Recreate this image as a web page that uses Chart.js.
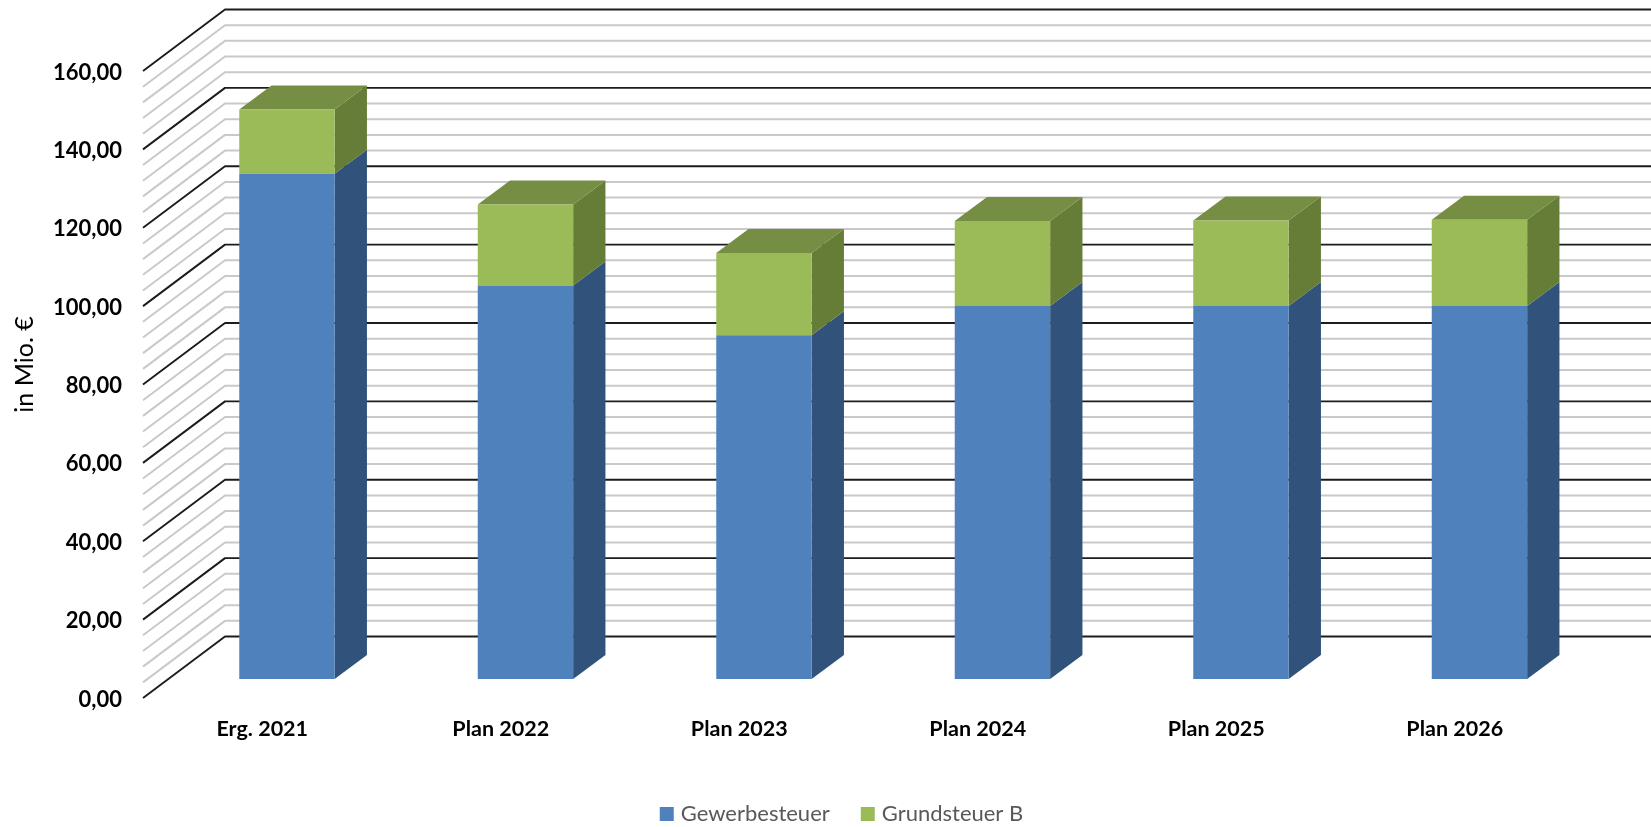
<!DOCTYPE html>
<html><head><meta charset="utf-8">
<style>html,body{margin:0;padding:0;background:#fff}canvas{display:block;filter:blur(0.35px)}</style>
<script src="https://cdn.jsdelivr.net/npm/chart.js@4"></script>
</head><body><canvas id="c" width="1651" height="827"></canvas>
<script>
const categories = ['Erg. 2021','Plan 2022','Plan 2023','Plan 2024','Plan 2025','Plan 2026'];
const gewerbesteuer = [128.9,100.4,87.7,95.2,95.2,95.2];
const grundsteuerB = [16.4,20.7,21.0,21.7,21.8,22.0];
const seriesNames = ['Gewerbesteuer','Grundsteuer B'];
const frontColors = ['#4F81BD','#9BBB59'];
const sideColors = ['#31527A','#667D38'];
const topColors = ['#3A6090','#768D44'];

const WALL = {dx:82, dy:-61.5};      // floor depth of the wall
const BAR_OFFSET = {dx:24.7, dy:-19}; // bar front plane
const BAR_DEPTH = {dx:32.3, dy:-24};

function poly(ctx, pts, color){
  ctx.fillStyle = color; ctx.beginPath();
  pts.forEach((p,i)=> i?ctx.lineTo(p[0],p[1]):ctx.moveTo(p[0],p[1]));
  ctx.closePath(); ctx.fill();
}
const plot3d = {
  id:'plot3d',
  afterLayout(chart){
    const lg = chart.legend;
    lg.left = 36; lg.right = 1651; lg.top = 768; lg.bottom = 827;
    const s = chart.scales.y;
    if(!s._shifted){
      s._shifted = true;
      const orig = s.drawTitle, origLabels = s.drawLabels;
      s.drawTitle = function(){ const c=this.ctx; c.save(); c.translate(0,-20); orig.call(this); c.restore(); };
      s.drawLabels = function(area){ const c=this.ctx; c.save(); c.translate(0,1.5); origLabels.call(this,area); c.restore(); };
    }
  },
  beforeDatasetsDraw(chart){
    const ctx = chart.ctx, y = chart.scales.y, W = chart.width;
    ctx.save();
    ctx.lineCap = 'butt'; ctx.lineJoin='round';
    const ticks = y.ticks.slice().sort((a,b)=> (a.value%20===0) - (b.value%20===0));
    ticks.forEach(t=>{
      const major = t.value % 20 === 0;
      const py = y.getPixelForValue(t.value);
      const x0 = chart.chartArea.left;
      ctx.strokeStyle = major ? '#1c1c1c' : '#c9c9c9';
      ctx.lineWidth = major ? 1.9 : 2;
      ctx.beginPath();
      ctx.moveTo(x0, py);
      ctx.lineTo(x0+WALL.dx, py+WALL.dy);
      ctx.lineTo(W, py+WALL.dy);
      ctx.stroke();
    });
    // bar faces, then the library bars on the same translated plane
    ctx.restore();
    ctx.save();
    ctx.translate(BAR_OFFSET.dx, BAR_OFFSET.dy);
    const n = chart.data.datasets.length;
    for(let d=0;d<n;d++){
      chart.getDatasetMeta(d).data.forEach(b=>{
        const r = b.x + b.width/2, l = b.x - b.width/2, dx=BAR_DEPTH.dx, dy=BAR_DEPTH.dy;
        poly(ctx, [[r,b.base],[r+dx,b.base+dy],[r+dx,b.y+dy],[r,b.y]], sideColors[d]);
        if(d===n-1) poly(ctx, [[l,b.y],[l+dx,b.y+dy],[r+dx,b.y+dy],[r,b.y]], topColors[d]);
      });
    }
  },
  afterDatasetsDraw(chart){ chart.ctx.restore(); }
};

new Chart(document.getElementById('c'), {
  type:'bar',
  data:{labels:categories, datasets:[
    {label:seriesNames[0], data:gewerbesteuer, backgroundColor:frontColors[0], borderWidth:0, clip:false},
    {label:seriesNames[1], data:grundsteuerB, backgroundColor:frontColors[1], borderWidth:0, clip:false}
  ]},
  options:{
    responsive:false, animation:false, devicePixelRatio:1,
    layout:{padding:{left:0,right:77,top:71,bottom:0}},
    categoryPercentage:0.4, barPercentage:1,
    plugins:{
      tooltip:{enabled:false},
      legend:{position:'bottom',
        labels:{boxWidth:6,boxHeight:6,padding:35,color:'#595959',font:{family:'Lato',size:22},
          generateLabels(chart){
            return Chart.defaults.plugins.legend.labels.generateLabels(chart).map(l=>({...l,strokeStyle:l.fillStyle,lineWidth:8,lineJoin:'miter'}));
          }}}
    },
    scales:{
      x:{stacked:true,
        afterFit(s){s.height=62;},
        grid:{display:false,drawTicks:false},border:{display:false},
        ticks:{color:'#000',padding:18,maxRotation:0,font:{family:'Lato',size:21.5,weight:'bold'}}},
      y:{stacked:true,min:0,max:160,
        afterFit(s){s.width=143;},
        grid:{display:false,drawTicks:false},border:{display:false},
        title:{display:true,text:'in Mio. €',color:'#000',padding:{top:10,bottom:0},font:{family:'Lato',size:25}},
        ticks:{stepSize:4,autoSkip:false,color:'#000',padding:21,
          font:{family:'Lato',size:22,weight:'bold'},
          callback:(v)=> v%20===0 ? v.toFixed(2).replace('.',',') : ''}}
    }
  },
  plugins:[plot3d]
});
</script></body></html>
